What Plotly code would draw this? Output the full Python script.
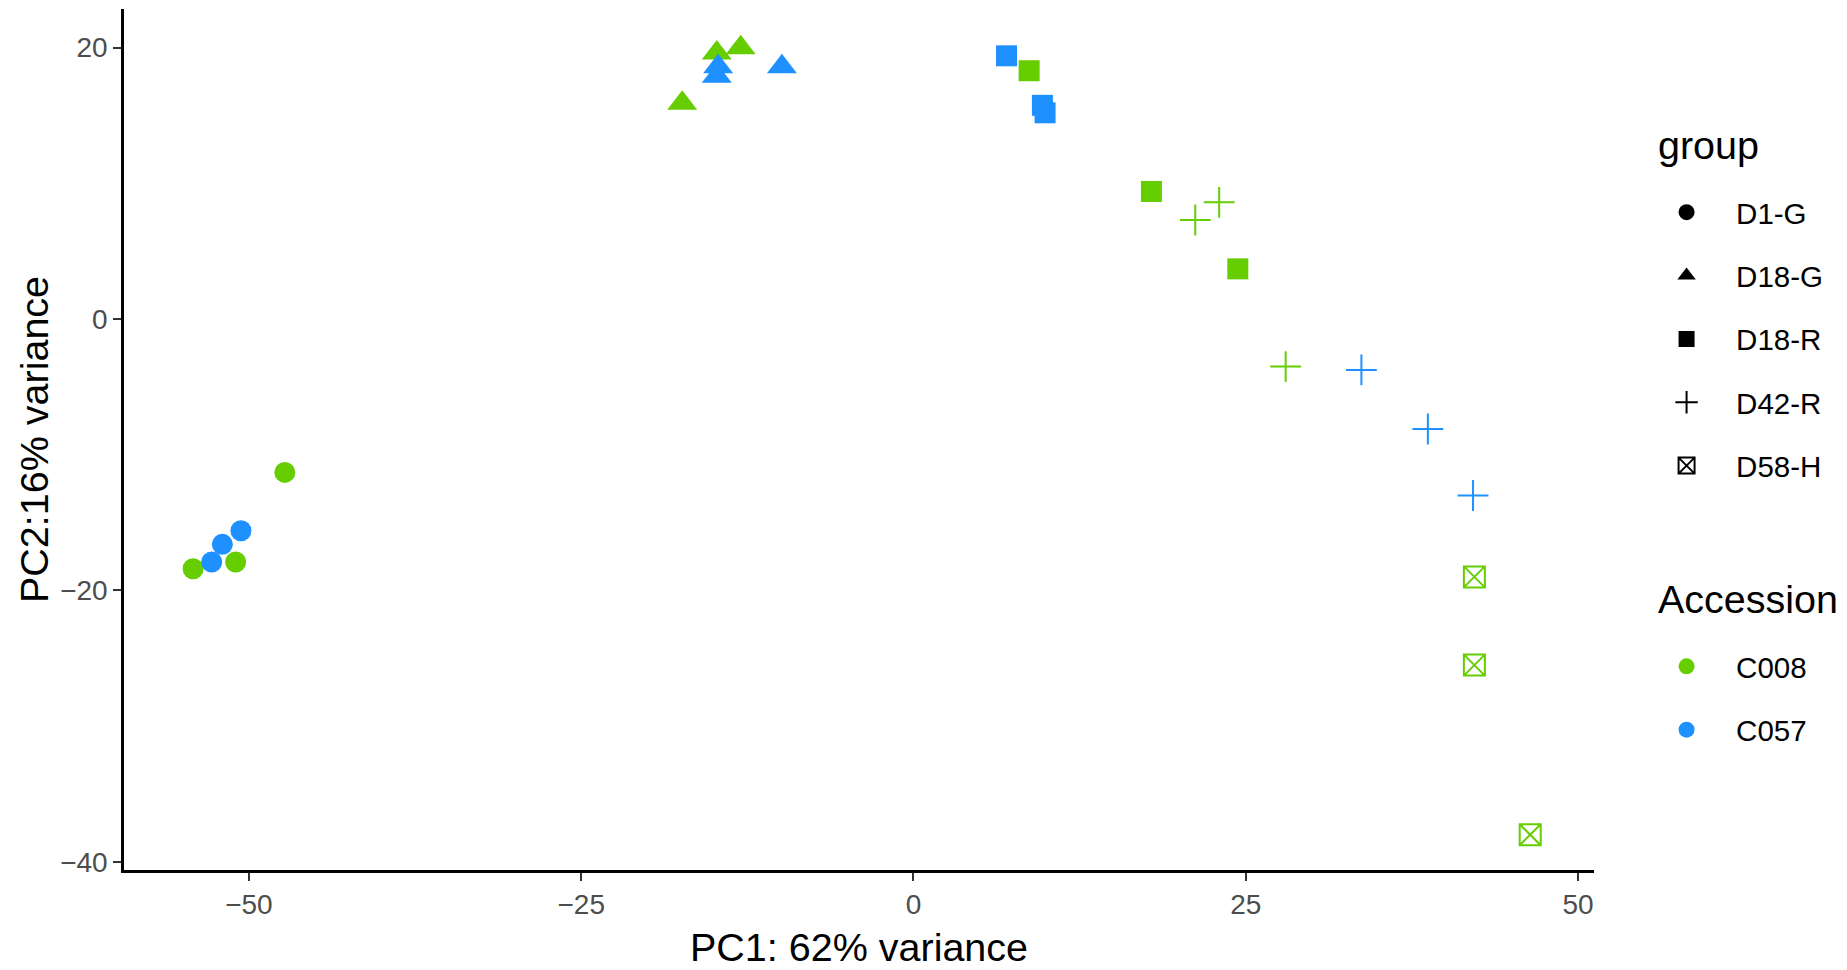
import plotly.graph_objects as go

# PCA scores per sample
GROUPS = ["D1-G", "D18-G", "D18-R", "D42-R", "D58-H"]
ACCESSIONS = ["C008", "C057"]

sample_group = [
    "D1-G", "D1-G", "D1-G", "D1-G", "D1-G", "D1-G",
    "D18-G", "D18-G", "D18-G", "D18-G", "D18-G", "D18-G",
    "D18-R", "D18-R", "D18-R", "D18-R", "D18-R", "D18-R",
    "D42-R", "D42-R", "D42-R", "D42-R", "D42-R", "D42-R",
    "D58-H", "D58-H", "D58-H",
]
sample_accession = [
    "C008", "C008", "C008", "C057", "C057", "C057",
    "C008", "C008", "C008", "C057", "C057", "C057",
    "C008", "C008", "C008", "C057", "C057", "C057",
    "C008", "C008", "C008", "C057", "C057", "C057",
    "C008", "C008", "C008",
]
pc1 = [
    -54.2, -51.0, -47.3, -52.8, -52.0, -50.6,
    -17.4, -14.8, -13.0, -14.7, -14.8, -9.9,
    8.7, 17.9, 24.4, 7.0, 9.7, 9.9,
    21.2, 23.0, 28.0, 33.7, 38.7, 42.1,
    42.2, 42.2, 46.4,
]
pc2 = [
    -18.4, -17.9, -11.3, -17.9, -16.6, -15.6,
    15.9, 19.6, 20.0, 18.6, 17.9, 18.6,
    18.3, 9.4, 3.7, 19.4, 15.75, 15.2,
    7.3, 8.6, -3.5, -3.75, -8.1, -13.0,
    -19.0, -25.5, -38.0,
]

x_ticks = [-50, -25, 0, 25, 50]
y_ticks = [-40, -20, 0, 20]
x_title = "PC1: 62% variance"
y_title = "PC2:16% variance"
shape_legend_title = "group"
colour_legend_title = "Accession"

ACC_COLORS = {"C008": "#66CD00", "C057": "#1E90FF"}
GROUP_SYMBOLS = {
    "D1-G": dict(symbol="circle", size=21, lw=0),
    "D18-G": dict(symbol="triangle-up", size=26, lw=0),
    "D18-R": dict(symbol="square", size=21, lw=0),
    "D42-R": dict(symbol="cross-thin-open", size=22, lw=2),
    "D58-H": dict(symbol="square-x-open", size=21, lw=2),
}

FONT = "Liberation Sans, Arial, sans-serif"
TITLE_SIZE = 39.5
LABEL_SIZE = 29.5

fig = go.Figure()

# data points, one trace per accession/group pair
for acc in ACCESSIONS:
    for grp in GROUPS:
        xs = [x for x, g, a in zip(pc1, sample_group, sample_accession) if g == grp and a == acc]
        ys = [y for y, g, a in zip(pc2, sample_group, sample_accession) if g == grp and a == acc]
        if not xs:
            continue
        sym = GROUP_SYMBOLS[grp]
        fig.add_trace(go.Scatter(
            x=xs, y=ys, mode="markers", showlegend=False,
            marker=dict(symbol=sym["symbol"], size=sym["size"], color=ACC_COLORS[acc],
                        line=dict(width=sym["lw"], color=ACC_COLORS[acc])),
            hovertemplate=f"{grp} / {acc}<br>PC1=%{{x}}<br>PC2=%{{y}}<extra></extra>",
        ))

# shape legend
for grp in GROUPS:
    sym = GROUP_SYMBOLS[grp]
    fig.add_trace(go.Scatter(
        x=[None], y=[None], mode="markers", name=grp, legend="legend",
        legendgroup=grp,
        marker=dict(symbol=sym["symbol"], size=sym["size"], color="black",
                    line=dict(width=sym["lw"], color="black")),
    ))

# colour legend
for acc in ACCESSIONS:
    fig.add_trace(go.Scatter(
        x=[None], y=[None], mode="markers", name=acc, legend="legend2",
        legendgroup=acc,
        marker=dict(symbol="circle", size=20, color=ACC_COLORS[acc]),
    ))

axis_common = dict(
    showgrid=False, zeroline=False, showline=True, linecolor="black", linewidth=2.5,
    ticks="outside", ticklen=8, tickwidth=2, tickcolor="#333333",
    tickfont=dict(size=28, color="#4D4D4D", family=FONT),
    automargin=False,
)

legend_common = dict(
    font=dict(size=LABEL_SIZE), x=1.0293, xanchor="left", yanchor="top",
    tracegroupgap=22, itemwidth=89, bgcolor="rgba(0,0,0,0)",
)

fig.update_layout(
    width=1847, height=970,
    margin=dict(l=124, r=253, t=9, b=100),
    plot_bgcolor="white", paper_bgcolor="white",
    font=dict(family=FONT, color="black"),
    xaxis=dict(range=[-59.4, 51.2], tickvals=x_ticks,
               title=dict(text=x_title, font=dict(size=TITLE_SIZE, color="black"), standoff=15),
               **axis_common),
    yaxis=dict(range=[-40.6, 22.85], tickvals=y_ticks,
               title=dict(text=y_title, font=dict(size=TITLE_SIZE, color="black"), standoff=0),
               **axis_common),
    legend=dict(y=0.7938, **legend_common),
    legend2=dict(y=0.2664, **legend_common),
    annotations=[
        dict(text=shape_legend_title, xref="paper", yref="paper", x=1.042, y=0.842,
             xanchor="left", yanchor="middle", showarrow=False,
             font=dict(size=TITLE_SIZE, color="black", family=FONT)),
        dict(text=colour_legend_title, xref="paper", yref="paper", x=1.042, y=0.3148,
             xanchor="left", yanchor="middle", showarrow=False,
             font=dict(size=TITLE_SIZE, color="black", family=FONT)),
    ],
)

fig.write_html("out.html")
